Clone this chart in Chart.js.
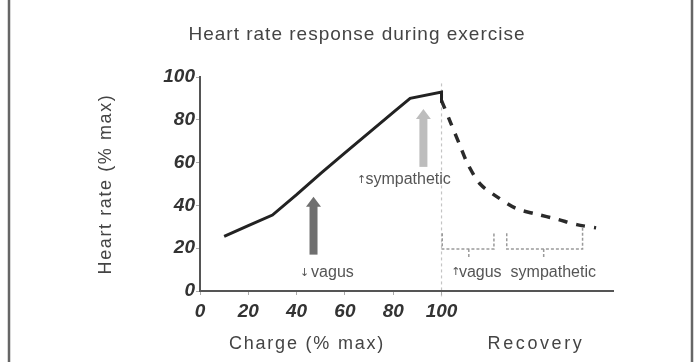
<!DOCTYPE html>
<html>
<head>
<meta charset="utf-8">
<script src="https://cdn.jsdelivr.net/npm/chart.js@4/dist/chart.umd.min.js"></script>
<style>
  body { margin: 0; background: #fff; }
  #wrap { width: 694px; height: 362px; position: relative; }
</style>
</head>
<body>
<div id="wrap"><canvas id="hrChart"></canvas></div>
<script>
// exercise phase (% of max charge -> % of max heart rate)
const exerciseX = [10, 20, 30, 40, 50, 60, 70, 80, 87, 100, 100];
const exerciseY = [25.5, 30.5, 35.5, 45, 55, 64.5, 74, 83.5, 90, 93, 88];

// recovery phase
const recoveryX = [100, 104, 108, 111, 116, 123, 131, 139, 148, 156, 164];
const recoveryY = [89, 78, 67, 59, 50, 44, 38.5, 36, 33.5, 31, 29.5];

const xTicks = [0, 20, 40, 60, 80, 100];
const yTicks = [0, 20, 40, 60, 80, 100];

// big arrows: [x, yFrom, yTo]
const vagusArrow = [47, 17, 44];
const sympArrow = [92.5, 58, 85];

// braces under recovery curve: [xLeft, xRight, xMid]
const braces = [[100.3, 121.7, 111.3], [127, 158.4, 142.3]];

const ctx = document.getElementById('hrChart');

const toPts = (xs, ys) => xs.map((x, i) => ({ x: x, y: ys[i] }));

const decor = {
  id: 'decor',
  beforeDraw(chart) {
    const c = chart.ctx;
    const xs = chart.scales.x, ys = chart.scales.y;
    const area = chart.chartArea;
    c.save();
    // frame sides
    c.strokeStyle = '#666';
    c.lineWidth = 2.5;
    c.beginPath();
    c.moveTo(9, 0); c.lineTo(9, 362);
    c.moveTo(692, 0); c.lineTo(692, 362);
    c.stroke();
    // dashed divider at 100
    c.strokeStyle = '#c4c4c4';
    c.lineWidth = 1.2;
    c.setLineDash([3, 3]);
    c.beginPath();
    c.moveTo(xs.getPixelForValue(100), ys.getPixelForValue(97));
    c.lineTo(xs.getPixelForValue(100), area.bottom + 6);
    c.stroke();
    c.restore();
  },
  afterDatasetsDraw(chart) {
    const c = chart.ctx;
    const xs = chart.scales.x, ys = chart.scales.y;
    const px = v => xs.getPixelForValue(v);
    const py = v => ys.getPixelForValue(v);
    c.save();

    function bigArrow(a, color) {
      const x = px(a[0]), y0 = py(a[1]), y1 = py(a[2]);
      c.fillStyle = color;
      c.fillRect(x - 4, y1 + 9, 8, y0 - y1 - 9);
      c.beginPath();
      c.moveTo(x - 7.5, y1 + 10);
      c.lineTo(x, y1);
      c.lineTo(x + 7.5, y1 + 10);
      c.closePath();
      c.fill();
    }
    bigArrow(vagusArrow, '#6f6f6f');
    bigArrow(sympArrow, '#bdbdbd');

    // braces
    c.strokeStyle = '#9a9a9a';
    c.lineWidth = 1.5;
    c.setLineDash([3, 2]);
    braces.forEach((b, i) => {
      const l = px(b[0]), r = px(b[1]), m = px(b[2]);
      const top = py(27), bot = py(19.6), nub = py(15.5);
      c.beginPath();
      c.moveTo(l, top); c.lineTo(l, bot); c.lineTo(r, bot);
      c.lineTo(r, i === 1 ? py(30.5) : top);
      c.moveTo(m, bot); c.lineTo(m, nub);
      c.stroke();
    });
    c.setLineDash([]);

    // labels
    c.fillStyle = '#555';
    c.textBaseline = 'middle';
    c.textAlign = 'left';
    c.font = '11px "DejaVu Sans"';
    c.fillText('↓', px(41.4), py(8.3));
    c.fillText('↑', px(65), py(52));
    c.fillText('↑', px(104), py(8.7));
    c.font = '16px "Liberation Sans"';
    c.fillText('vagus', px(46), py(8.7));
    c.fillText('sympathetic', px(68.5), py(52));
    c.fillText('vagus', px(107.2), py(8.7));
    c.fillText('sympathetic', px(128.6), py(8.7));

    // titles
    c.fillStyle = '#444';
    c.textAlign = 'center';
    c.font = '19px "Liberation Sans"';
    c.letterSpacing = '1px';
    c.fillText('Heart rate response during exercise', 357, 35);
    c.font = '18px "Liberation Sans"';
    c.letterSpacing = '1.8px';
    c.fillText('Charge (% max)', 307, 344);
    c.letterSpacing = '2.6px';
    c.fillText('Recovery', 536, 344);
    c.letterSpacing = '1.6px';
    c.translate(106, 184);
    c.rotate(-Math.PI / 2);
    c.fillText('Heart rate (% max)', 0, 0);
    c.restore();
  }
};

new Chart(ctx, {
  type: 'line',
  data: {
    datasets: [{
      label: 'Exercise',
      data: toPts(exerciseX, exerciseY),
      borderColor: '#222',
      borderWidth: 3,
      pointRadius: 0,
      tension: 0
    }, {
      label: 'Recovery',
      data: toPts(recoveryX, recoveryY),
      borderColor: '#2a2a2a',
      borderWidth: 3.5,
      borderDash: [9, 9],
      pointRadius: 0,
      tension: 0.3
    }]
  },
  options: {
    responsive: true,
    maintainAspectRatio: false,
    animation: false,
    layout: { padding: { left: 0, right: 81, top: 77, bottom: 0 } },
    scales: {
      x: {
        type: 'linear',
        min: 0,
        max: 171,
        afterFit: s => { s.height = 71; },
        afterBuildTicks: s => { s.ticks = xTicks.map(v => ({ value: v })); },
        border: { color: '#555', width: 2 },
        grid: { drawOnChartArea: false, tickLength: 4, tickColor: '#aaa' },
        ticks: {
          color: '#333',
          padding: 5,
          maxRotation: 0,
          font: { family: 'Liberation Sans', size: 19, weight: 'bold', style: 'italic' }
        }
      },
      y: {
        min: 0,
        max: 100,
        afterFit: s => { s.width = 200; },
        afterBuildTicks: s => { s.ticks = yTicks.map(v => ({ value: v })); },
        border: { color: '#555', width: 2 },
        grid: { drawOnChartArea: false, tickLength: 4, tickColor: '#aaa' },
        ticks: {
          color: '#333',
          padding: 1,
          font: { family: 'Liberation Sans', size: 19, weight: 'bold', style: 'italic' }
        }
      }
    },
    plugins: {
      legend: { display: false },
      tooltip: { enabled: false }
    }
  },
  plugins: [decor]
});
</script>
</body>
</html>
